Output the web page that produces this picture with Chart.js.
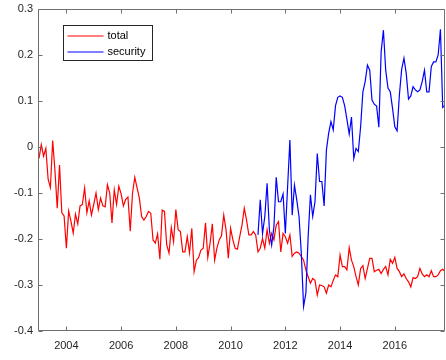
<!DOCTYPE html>
<html>
<head>
<meta charset="utf-8">
<script src="https://cdn.jsdelivr.net/npm/chart.js@4/dist/chart.umd.min.js"></script>
<style>
  html, body { margin: 0; padding: 0; background: #fff; }
  canvas { display: block; }
</style>
</head>
<body>
<canvas id="c" width="446" height="360"></canvas>
<script>
// Monthly series, first observation January 2003
const startYear = 2003;
const seriesNames = ['total', 'security'];
const seriesColors = ['#ff0000', '#0000ff'];

const totalValues = [
  -0.025, 0.005, -0.020, -0.003, -0.070, -0.088, 0.014, -0.052, -0.133, -0.039, -0.143, -0.150,
  -0.220, -0.139, -0.161, -0.187, -0.146, -0.167, -0.128, -0.125, -0.089, -0.143, -0.117, -0.148,
  -0.125, -0.100, -0.136, -0.111, -0.128, -0.130, -0.082, -0.100, -0.165, -0.093, -0.125, -0.085,
  -0.102, -0.128, -0.114, -0.109, -0.183, -0.100, -0.066, -0.089, -0.111, -0.151, -0.159, -0.151,
  -0.140, -0.144, -0.202, -0.209, -0.189, -0.244, -0.137, -0.140, -0.213, -0.231, -0.175, -0.206,
  -0.136, -0.180, -0.184, -0.228, -0.228, -0.195, -0.230, -0.177, -0.271, -0.246, -0.240, -0.224,
  -0.220, -0.165, -0.240, -0.209, -0.167, -0.246, -0.220, -0.202, -0.193, -0.148, -0.180, -0.242,
  -0.177, -0.202, -0.220, -0.222, -0.195, -0.170, -0.133, -0.159, -0.191, -0.191, -0.184, -0.191,
  -0.228, -0.220, -0.199, -0.220, -0.180, -0.209, -0.188, -0.202, -0.170, -0.162, -0.228, -0.188,
  -0.195, -0.209, -0.191, -0.238, -0.231, -0.228, -0.231, -0.238, -0.246, -0.267, -0.282, -0.296,
  -0.286, -0.290, -0.322, -0.300, -0.301, -0.304, -0.318, -0.300, -0.304, -0.290, -0.278, -0.282,
  -0.235, -0.260, -0.260, -0.267, -0.219, -0.246, -0.260, -0.282, -0.300, -0.264, -0.258, -0.286,
  -0.264, -0.242, -0.242, -0.271, -0.268, -0.266, -0.275, -0.266, -0.260, -0.278, -0.244, -0.253,
  -0.240, -0.264, -0.271, -0.282, -0.276, -0.286, -0.293, -0.304, -0.284, -0.286, -0.282, -0.264,
  -0.276, -0.282, -0.278, -0.282, -0.269, -0.282, -0.282, -0.278, -0.269, -0.266, -0.271
];

// security starts in January 2011 (month 96 of the total series)
const securityStartMonth = 96;
const securityValues = [
  -0.191, -0.115, -0.188, -0.151, -0.079, -0.180, -0.213, -0.173, -0.066, -0.119, -0.119, -0.102,
  -0.188, -0.086, 0.015, -0.148, -0.083, -0.115, -0.151, -0.231, -0.347, -0.318, -0.195, -0.104,
  -0.151, -0.119, -0.014, -0.075, -0.075, -0.128, -0.007, 0.030, 0.055, 0.037, 0.090, 0.108,
  0.111, 0.108, 0.090, 0.060, 0.028, 0.065, -0.025, -0.003, -0.010, 0.044, 0.120, 0.142,
  0.178, 0.167, 0.102, 0.093, 0.089, 0.043, 0.207, 0.254, 0.167, 0.128, 0.120, 0.084,
  0.044, 0.035, 0.113, 0.169, 0.193, 0.160, 0.104, 0.111, 0.131, 0.124, 0.120, 0.124,
  0.142, 0.167, 0.120, 0.120, 0.175, 0.185, 0.185, 0.200, 0.256, 0.086, 0.091
];

const xTicks = [2004, 2006, 2008, 2010, 2012, 2014, 2016];
const yTicks = [-0.4, -0.3, -0.2, -0.1, 0, 0.1, 0.2, 0.3];

// decimal-year position of a month counted from January of startYear
const monthToYear = m => startYear + m / 12;
const toPoints = (values, offset) => values.map((v, i) => ({ x: monthToYear(offset + i), y: v }));

const axisColor = '#6f6f6f';
const textColor = '#262626';
const fontFamily = "'Liberation Sans', Arial, Helvetica, sans-serif";

Chart.defaults.font.family = fontFamily;
Chart.defaults.font.size = 11;
Chart.defaults.color = textColor;

// Box around the plot with inward tick marks on all four sides
const framePlugin = {
  id: 'frame',
  afterDraw(chart) {
    const { ctx, chartArea: a, scales } = chart;
    const L = Math.round(a.left) - 0.5, R = Math.round(a.right) - 0.5;
    const T = Math.round(a.top) + 0.5, B = Math.round(a.bottom) - 0.5;
    const len = 4;
    ctx.save();
    ctx.strokeStyle = axisColor;
    ctx.lineWidth = 1;
    ctx.beginPath();
    ctx.rect(L, T, R - L, B - T);
    xTicks.forEach(v => {
      const px = Math.round(scales.x.getPixelForValue(v)) + 0.5;
      ctx.moveTo(px, B); ctx.lineTo(px, B - len);
      ctx.moveTo(px, T); ctx.lineTo(px, T + len);
    });
    yTicks.forEach(v => {
      const py = Math.round(scales.y.getPixelForValue(v)) + 0.5;
      ctx.moveTo(L, py); ctx.lineTo(L + len, py);
      ctx.moveTo(R, py); ctx.lineTo(R - len, py);
    });
    ctx.stroke();
    ctx.restore();
  }
};

// Boxed legend in the upper-left corner of the plot
const boxLegendPlugin = {
  id: 'boxLegend',
  afterDraw(chart, args, opts) {
    const { ctx, chartArea: a } = chart;
    const x0 = Math.round(a.left + opts.offsetX) + 0.5;
    const y0 = Math.round(a.top + opts.offsetY) + 0.5;
    ctx.save();
    ctx.fillStyle = '#ffffff';
    ctx.fillRect(x0, y0, opts.width, opts.height);
    ctx.strokeStyle = textColor;
    ctx.lineWidth = 1;
    ctx.strokeRect(x0, y0, opts.width, opts.height);
    ctx.font = '11px ' + fontFamily;
    ctx.textBaseline = 'middle';
    ctx.textAlign = 'left';
    chart.data.datasets.forEach((ds, i) => {
      const y = Math.round(y0 + opts.firstRow + i * opts.rowGap);
      ctx.beginPath();
      ctx.strokeStyle = seriesColors[i];
      ctx.lineWidth = 1.2;
      ctx.moveTo(x0 + opts.lineStart, y);
      ctx.lineTo(x0 + opts.lineStart + opts.lineLength, y);
      ctx.stroke();
      ctx.fillStyle = '#000000';
      ctx.fillText(ds.label, x0 + opts.lineStart + opts.lineLength + 4, y);
    });
    ctx.restore();
  }
};

const noScalePadding = s => { s.paddingTop = 0; s.paddingBottom = 0; s.paddingLeft = 0; s.paddingRight = 0; };

new Chart(document.getElementById('c'), {
  type: 'line',
  data: {
    datasets: [
      {
        label: seriesNames[0],
        data: toPoints(totalValues, 0),
        borderColor: seriesColors[0],
        borderWidth: 1.2,
        order: 2
      },
      {
        label: seriesNames[1],
        data: toPoints(securityValues, securityStartMonth),
        borderColor: seriesColors[1],
        borderWidth: 1.2,
        order: 1
      }
    ]
  },
  options: {
    responsive: false,
    animation: false,
    devicePixelRatio: 1,
    layout: { padding: { left: 0, right: 1, top: 9, bottom: 0 } },
    elements: {
      point: { radius: 0, hoverRadius: 0 },
      line: { tension: 0, fill: false }
    },
    plugins: {
      legend: { display: false },
      tooltip: { enabled: false },
      boxLegend: {
        offsetX: 24, offsetY: 16, width: 89, height: 35,
        firstRow: 10, rowGap: 16, lineStart: 4, lineLength: 36
      }
    },
    scales: {
      x: {
        type: 'linear',
        min: monthToYear(0),
        max: monthToYear(totalValues.length - 1),
        grid: { display: false, drawTicks: false },
        border: { display: false },
        afterBuildTicks: s => { s.ticks = xTicks.map(v => ({ value: v })); },
        afterFit: s => { s.height = 29; noScalePadding(s); },
        ticks: { padding: 8, maxRotation: 0, autoSkip: false, callback: v => String(v) }
      },
      y: {
        type: 'linear',
        min: -0.4,
        max: 0.3,
        grid: { display: false, drawTicks: false },
        border: { display: false },
        afterBuildTicks: s => { s.ticks = yTicks.map(v => ({ value: v })); },
        afterFit: s => { s.width = 39; noScalePadding(s); },
        ticks: { padding: 6, autoSkip: false, callback: v => String(Math.round(v * 10) / 10) }
      }
    }
  },
  plugins: [framePlugin, boxLegendPlugin]
});
</script>
</body>
</html>
